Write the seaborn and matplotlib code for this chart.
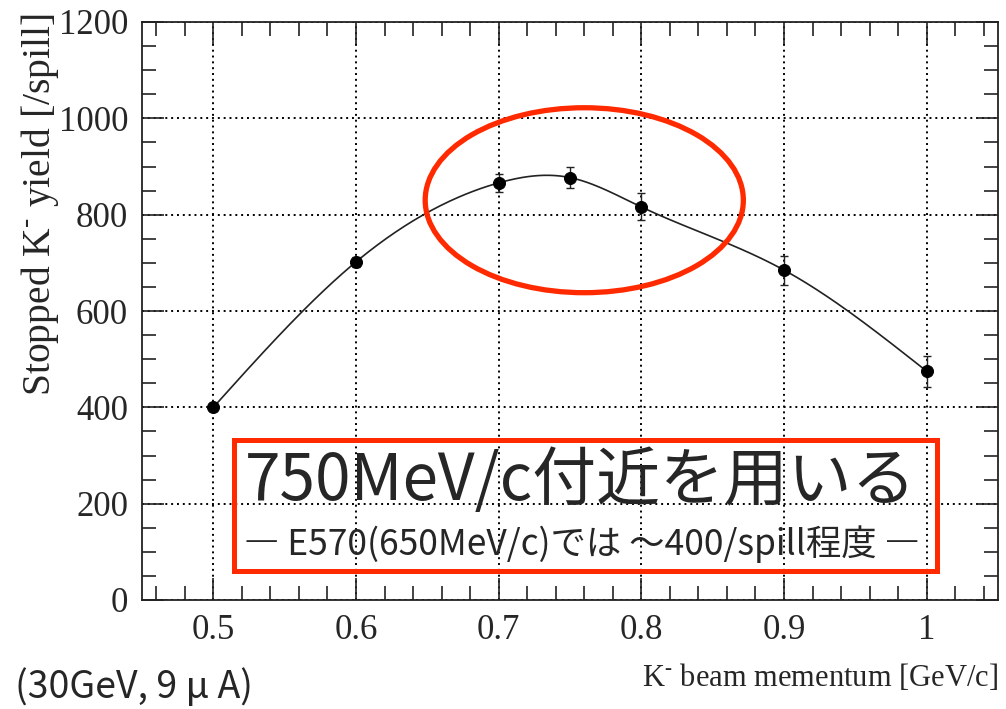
import numpy as np
import pandas as pd
import matplotlib
matplotlib.use("Agg")
import matplotlib.pyplot as plt
from matplotlib.patches import Ellipse, Rectangle
from matplotlib.ticker import MultipleLocator
import seaborn as sns

# ---- data ----
momentum = [0.5, 0.6, 0.7, 0.75, 0.8, 0.9, 1.0]
yield_per_spill = [400, 702, 866, 877, 816, 685, 475]
yield_err = [8, 10, 19, 21, 28, 30, 32]
x_ticks = [0.5, 0.6, 0.7, 0.8, 0.9, 1.0]
x_tick_labels = ["0.5", "0.6", "0.7", "0.8", "0.9", "1"]
y_ticks = [0, 200, 400, 600, 800, 1000, 1200]

title_main = "750MeV/c付近を用いる"
title_sub = "― E570(650MeV/c)では 〜400/spill程度 ―"
note = "(30GeV, 9 μ A)"

df = pd.DataFrame({"p": momentum, "y": yield_per_spill, "err": yield_err})

# natural cubic spline through the measured points (smooth curve drawing)
def natural_spline(x, y, n=400):
    x = np.asarray(x, float); y = np.asarray(y, float)
    m = len(x); h = np.diff(x)
    A = np.zeros((m, m)); b = np.zeros(m)
    A[0, 0] = A[-1, -1] = 1
    for i in range(1, m - 1):
        A[i, i - 1] = h[i - 1]; A[i, i] = 2 * (h[i - 1] + h[i]); A[i, i + 1] = h[i]
        b[i] = 6 * ((y[i + 1] - y[i]) / h[i] - (y[i] - y[i - 1]) / h[i - 1])
    M = np.linalg.solve(A, b)
    xs = np.linspace(x[0], x[-1], n); ys = np.empty_like(xs)
    for k, xv in enumerate(xs):
        i = min(np.searchsorted(x, xv) - 1, m - 2); i = max(i, 0)
        t1 = x[i + 1] - xv; t0 = xv - x[i]
        ys[k] = (M[i] * t1**3 + M[i + 1] * t0**3) / (6 * h[i]) \
            + (y[i] / h[i] - M[i] * h[i] / 6) * t1 + (y[i + 1] / h[i] - M[i + 1] * h[i] / 6) * t0
    return xs, ys

sx, sy = natural_spline(momentum, yield_per_spill)
curve = pd.DataFrame({"p": sx, "y": sy})

sns.set_theme(style="ticks")
plt.rcParams["font.family"] = ["Liberation Serif", "DejaVu Serif"]
plt.rcParams["mathtext.fontset"] = "custom"
plt.rcParams["mathtext.rm"] = "Liberation Serif"

fig = plt.figure(figsize=(10.06, 7.09), dpi=100)
ax = fig.add_axes([142 / 1006, 1 - 600 / 709, (998 - 142) / 1006, (600 - 22) / 709])

ax.grid(True, which="major", color="black", linestyle=(0, (1, 2)), linewidth=1.4)
sns.lineplot(data=curve, x="p", y="y", ax=ax, color="#222222", linewidth=1.2, sort=False, zorder=3)
ax.errorbar(momentum, yield_per_spill, yerr=yield_err, fmt="none", ecolor="#222222",
            elinewidth=1.0, capsize=3, capthick=1.0, zorder=4)
sns.scatterplot(data=df, x="p", y="y", ax=ax, color="black", s=75, edgecolor="black", zorder=5)

ax.set_xlim(0.45, 1.05)
ax.set_ylim(0, 1200)
ax.set_xticks(x_ticks)
ax.set_xticklabels(x_tick_labels)
ax.set_yticks(y_ticks)
ax.xaxis.set_minor_locator(MultipleLocator(0.02))
ax.yaxis.set_minor_locator(MultipleLocator(50))
ax.tick_params(which="both", direction="in", top=True, right=True, color="#222222", width=1.2)
ax.tick_params(which="major", length=16, labelsize=25, pad=10)
ax.tick_params(which="minor", length=10)
for s in ax.spines.values():
    s.set_linewidth(1.3); s.set_color("#222222")

ax.set_xlabel("")
ax.set_ylabel("")
fig.text(998 / 1006, 1 - 677 / 709, "K$^{\\text{-}}$ beam mementum [GeV/c]", ha="right", va="center",
         fontsize=22, family=["Liberation Serif"])
fig.text(40 / 1006, 1 - 205 / 709, "Stopped K$^{\\text{-}}$ yield [/spill]", ha="center", va="center",
         rotation=90, fontsize=28.5, family=["Liberation Serif"])

red = "#ff2a00"
ax.add_patch(Ellipse((0.760, 830), 0.223, 384, fill=False, edgecolor=red, linewidth=3.8, zorder=6))
fig.patches.append(Rectangle((234 / 1006, 1 - 571 / 709), (937 - 234) / 1006, (571 - 440) / 709,
                             transform=fig.transFigure, fill=False, edgecolor=red, linewidth=3.6, zorder=6))

cjk = ["Noto Sans CJK JP", "DejaVu Sans"]
fig.text(581 / 1006, 1 - 482 / 709, title_main, ha="center", va="center", fontsize=46, family=cjk)
fig.text(582 / 1006, 1 - 544 / 709, title_sub, ha="center", va="center", fontsize=25.5, family=cjk)
fig.text(15 / 1006, 1 - 688 / 709, note, ha="left", va="center", fontsize=27, family=cjk)

fig.savefig("out.png", dpi=100)
